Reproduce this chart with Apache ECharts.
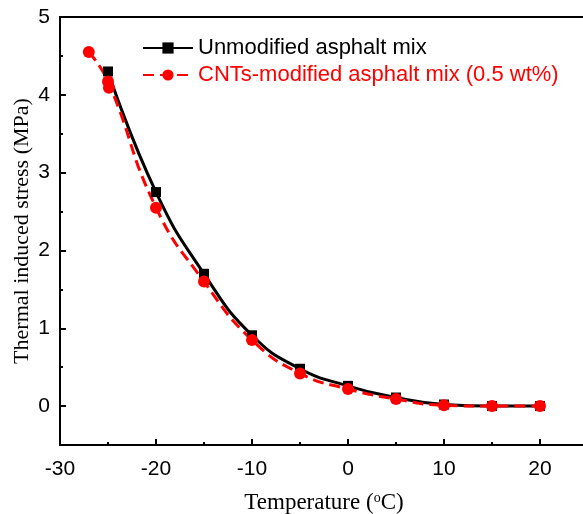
<!DOCTYPE html>
<html>
<head>
<meta charset="utf-8">
<script src="https://cdn.jsdelivr.net/npm/echarts@6/dist/echarts.min.js"></script>
<style>html,body{margin:0;padding:0;background:#fff}#c{width:583px;height:514px}</style>
</head>
<body>
<div id="c"></div>
<script>
const seriesNames = ['Unmodified asphalt mix', 'CNTs-modified asphalt mix (0.5 wt%)'];
const unmodTemp = [-25, -20, -15, -10, -5, 0, 5, 10, 15, 20];
const unmodStress = [4.30, 2.75, 1.70, 0.91, 0.48, 0.26, 0.11, 0.02, 0.00, 0.00];
const cntTemp = [-27, -25, -20, -15, -10, -5, 0, 5, 10, 15, 20];
const cntStress = [4.55, 4.17, 2.55, 1.60, 0.85, 0.42, 0.22, 0.09, 0.01, 0.00, 0.00];
// second (repeated) measurement of the CNTs mix at -25 °C
const cntExtraTemp = [-24.9];
const cntExtraStress = [4.09];
const xTicks = [-30, -20, -10, 0, 10, 20];
const yTicks = [0, 1, 2, 3, 4, 5];
const yMin = -0.5, yMax = 5;

const pair = (xs, ys) => xs.map((x, i) => [x, ys[i]]);
const tickFont = 'Liberation Sans, Arial';
const nameFont = 'Liberation Serif, Times New Roman';

const chart = echarts.init(document.getElementById('c'), null, {renderer: 'canvas'});
chart.setOption({
  animation: false,
  backgroundColor: '#fff',
  grid: {left: 60, top: 17, right: -5, bottom: 69, containLabel: false, outerBoundsMode: 'none',
    show: true, borderColor: '#000', borderWidth: 2, backgroundColor: 'transparent'},
  legend: {
    orient: 'vertical', left: 137, top: 32, itemWidth: 50, itemHeight: 14, itemGap: 5,
    textStyle: {fontFamily: tickFont, fontSize: 22},
    data: [
      {name: seriesNames[0], textStyle: {color: '#000'}},
      {name: seriesNames[1], textStyle: {color: '#ff0000'}}
    ]
  },
  xAxis: {
    type: 'value', min: -30, max: 25, interval: 10,
    name: 'Temperature ({sup|o}C)', nameLocation: 'middle', nameGap: 46, nameMoveOverlap: false,
    nameTextStyle: {fontFamily: nameFont, fontSize: 23, color: '#000',
      rich: {sup: {fontFamily: nameFont, fontSize: 14, verticalAlign: 'top', padding: [0, 0, 10, 0], color: '#000'}}},
    axisLine: {onZero: false, lineStyle: {color: '#000', width: 2}},
    axisTick: {inside: true, length: 6, lineStyle: {width: 2, color: '#000'}},
    minorTick: {show: true, splitNumber: 2, length: 3, lineStyle: {width: 2, color: '#000'}},
    axisLabel: {fontFamily: tickFont, fontSize: 21, color: '#000', margin: 14,
      formatter: v => xTicks.includes(v) ? String(v) : ''},
    splitLine: {show: false}
  },
  yAxis: [
    {
      type: 'value', min: yMin, max: yMax, position: 'right', show: false,
      axisLine: {onZero: false}, splitLine: {show: false}
    },
    {
      type: 'value', min: 0, max: yMax - yMin, interval: 1, inverse: true, position: 'left',
      name: 'Thermal induced stress (MPa)', nameLocation: 'middle', nameGap: 27, nameMoveOverlap: false,
      nameTextStyle: {fontFamily: nameFont, fontSize: 22, color: '#000'},
      axisLine: {onZero: false, lineStyle: {color: '#000', width: 2}},
      axisTick: {inside: true, length: 6, lineStyle: {width: 2, color: '#000'}},
      minorTick: {show: true, splitNumber: 2, length: 3, lineStyle: {width: 2, color: '#000'}},
      axisLabel: {fontFamily: tickFont, fontSize: 21, color: '#000', margin: 10,
        formatter: v => { const t = Math.round((yMax - v) * 100) / 100; return yTicks.includes(t) ? String(t) : ''; }},
      splitLine: {show: false}
    }
  ],
  series: [
    {
      name: seriesNames[0], type: 'line', yAxisIndex: 0, data: pair(unmodTemp, unmodStress),
      smooth: 0.5,
      symbol: 'rect', symbolSize: 10,
      lineStyle: {color: '#000', width: 3}, itemStyle: {color: '#000'}
    },
    {
      name: seriesNames[1], type: 'line', yAxisIndex: 0, data: pair(cntTemp, cntStress),
      smooth: 0.5,
      symbol: 'circle', symbolSize: 12,
      lineStyle: {color: '#ff0000', width: 3, type: [11, 6]}, itemStyle: {color: '#ff0000'}
    },
    {
      name: seriesNames[1], type: 'scatter', yAxisIndex: 0, data: pair(cntExtraTemp, cntExtraStress),
      symbol: 'circle', symbolSize: 12, itemStyle: {color: '#ff0000', opacity: 1}, z: 3
    }
  ]
});
</script>
</body>
</html>
